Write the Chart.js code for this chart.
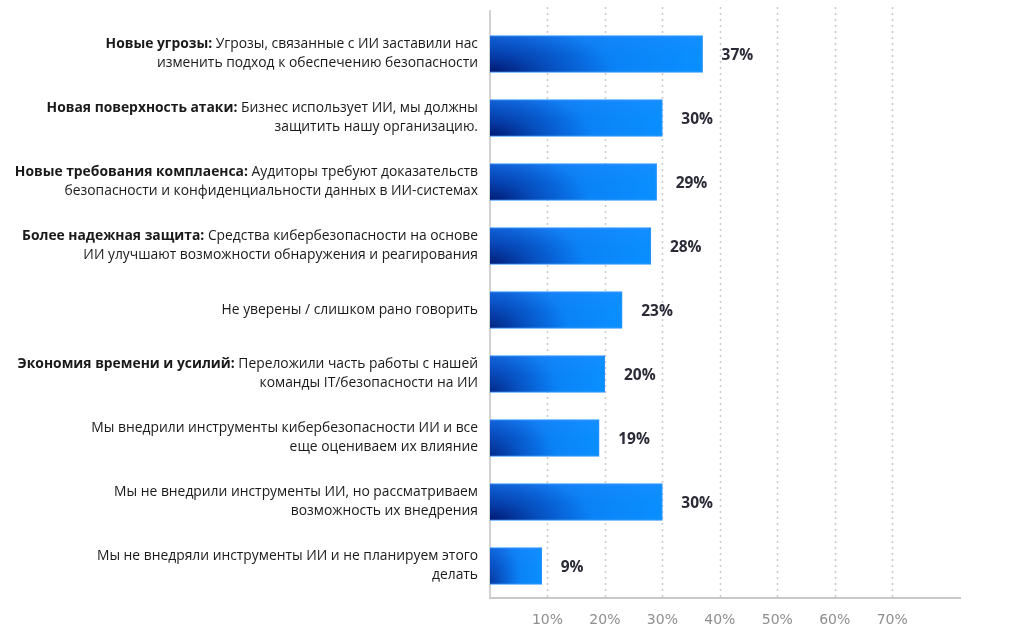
<!DOCTYPE html>
<html>
<head>
<meta charset="utf-8">
<script src="https://cdn.jsdelivr.net/npm/chart.js@4.4.1/dist/chart.umd.min.js"></script>
<style>
  html, body { margin: 0; padding: 0; background: #ffffff; }
  #wrap { width: 1024px; height: 635px; position: relative; }
</style>
</head>
<body>
<div id="wrap"><canvas id="c" width="1024" height="635"></canvas></div>
<script>
// ---- Data ----
const labelBold = [
  'Новые угрозы:',
  'Новая поверхность атаки:',
  'Новые требования комплаенса:',
  'Более надежная защита:',
  '',
  'Экономия времени и усилий:',
  '',
  '',
  ''
];
const labelLine1 = [
  ' Угрозы, связанные с ИИ заставили нас',
  ' Бизнес использует ИИ, мы должны',
  ' Аудиторы требуют доказательств',
  ' Средства кибербезопасности на основе',
  'Не уверены / слишком рано говорить',
  ' Переложили часть работы с нашей',
  'Мы внедрили инструменты кибербезопасности ИИ и все',
  'Мы не внедрили инструменты ИИ, но рассматриваем',
  'Мы не внедряли инструменты ИИ и не планируем этого'
];
const labelLine2 = [
  'изменить подход к обеспечению безопасности',
  'защитить нашу организацию.',
  'безопасности и конфиденциальности данных в ИИ-системах',
  'ИИ улучшают возможности обнаружения и реагирования',
  '',
  'команды IT/безопасности на ИИ',
  'еще оцениваем их влияние',
  'возможность их внедрения',
  'делать'
];
const categories = labelBold.map((b, i) => (b + labelLine1[i] + ' ' + labelLine2[i]).trim());
const values = [37, 30, 29, 28, 23, 20, 19, 30, 9];
const tickValues = [10, 20, 30, 40, 50, 60, 70];
const tickLabels = ['10%', '20%', '30%', '40%', '50%', '60%', '70%'];

const LABEL_FONT = '"Open Sans", "DejaVu Sans", sans-serif';
const LABEL_SIZE = 13.85;
const BAR_THICK = 37;

const patternCache = {};
function barFill(ctx) {
  const chart = ctx.chart;
  if (!chart.chartArea || ctx.type !== 'data') return '#0a8cff';
  const xs = chart.scales.x, ys = chart.scales.y;
  const x0 = xs.getPixelForValue(0);
  const x1 = xs.getPixelForValue(ctx.raw);
  const yc = ys.getPixelForValue(ctx.dataIndex);
  const yt = yc - BAR_THICK / 2;
  const w = Math.max(2, Math.ceil(x1 - x0) + 2);
  const h = BAR_THICK + 2;
  const key = ctx.dataIndex + ':' + w;
  let pat = patternCache[key];
  if (!pat) {
    const off = document.createElement('canvas');
    off.width = w; off.height = h;
    const o = off.getContext('2d');
    const g = o.createLinearGradient(0, 0, w, 0);
    g.addColorStop(0, '#0a5ed6');
    g.addColorStop(0.55, '#0a82f6');
    g.addColorStop(1, '#0a8fff');
    o.fillStyle = g;
    o.fillRect(0, 0, w, h);
    const gv = o.createLinearGradient(0, 0, 0, h);
    gv.addColorStop(0, 'rgba(40,140,255,0.35)');
    gv.addColorStop(0.5, 'rgba(40,140,255,0)');
    o.fillStyle = gv;
    o.fillRect(0, 0, w, h);
    o.save();
    const rx = Math.max(20, w * 0.6), ry = h * 1.25;
    o.translate(0, h);
    o.scale(rx / ry, 1);
    const rg = o.createRadialGradient(0, 0, 0, 0, 0, ry);
    const a = Math.min(0.95, 0.35 + w / 300);
    rg.addColorStop(0, 'rgba(0,18,100,' + a + ')');
    rg.addColorStop(0.45, 'rgba(0,30,130,' + (a * 0.45) + ')');
    rg.addColorStop(1, 'rgba(0,40,160,0)');
    o.fillStyle = rg;
    o.fillRect(0, -h, w * ry / rx + 1, h);
    o.restore();
    pat = chart.ctx.createPattern(off, 'no-repeat');
    pat.setTransform(new DOMMatrix([1, 0, 0, 1, x0 - 1, yt - 1]));
    patternCache[key] = pat;
  }
  return pat;
}

const decorPlugin = {
  id: 'decor',
  beforeDatasetsDraw(chart) {
    const ctx = chart.ctx;
    const xs = chart.scales.x;
    const area = chart.chartArea;
    ctx.save();
    ctx.strokeStyle = '#c9c9d2';
    ctx.lineWidth = 1.5;
    ctx.setLineDash([2, 4]);
    tickValues.forEach(v => {
      const x = Math.round(xs.getPixelForValue(v)) + 0.5;
      ctx.beginPath();
      ctx.moveTo(x, 7);
      ctx.lineTo(x, area.bottom);
      ctx.stroke();
    });
    ctx.setLineDash([]);
    ctx.strokeStyle = '#d2d2d2';
    ctx.lineWidth = 2;
    const lx = xs.getPixelForValue(0);
    ctx.beginPath();
    ctx.moveTo(lx, 10);
    ctx.lineTo(lx, area.bottom);
    ctx.stroke();
    ctx.restore();
  },
  afterDatasetsDraw(chart) {
    const ctx = chart.ctx;
    const xs = chart.scales.x, ys = chart.scales.y;
    ctx.save();
    ctx.fillStyle = '#2b2b38';
    ctx.font = '700 15.5px ' + LABEL_FONT;
    ctx.textAlign = 'left';
    ctx.textBaseline = 'middle';
    values.forEach((v, i) => {
      const x = xs.getPixelForValue(v) + 19;
      const y = ys.getPixelForValue(i) + 2;
      ctx.fillText(v + '%', x, y);
    });
    const rightX = 478;
    const lh = 19;
    ctx.fillStyle = '#1a1a1a';
    categories.forEach((c, i) => {
      const yc = ys.getPixelForValue(i);
      const hasTwo = labelLine2[i] !== '';
      const y1 = hasTwo ? yc - lh / 2 : yc;
      ctx.font = '400 ' + LABEL_SIZE + 'px ' + LABEL_FONT;
      const wReg = ctx.measureText(labelLine1[i]).width;
      ctx.textAlign = 'right';
      ctx.fillText(labelLine1[i], rightX, y1);
      if (labelBold[i]) {
        ctx.font = '700 ' + LABEL_SIZE + 'px ' + LABEL_FONT;
        ctx.fillText(labelBold[i], rightX - wReg, y1);
      }
      if (hasTwo) {
        ctx.font = '400 ' + LABEL_SIZE + 'px ' + LABEL_FONT;
        ctx.fillText(labelLine2[i], rightX, y1 + lh);
      }
    });
    ctx.restore();
  }
};

new Chart(document.getElementById('c'), {
  type: 'bar',
  data: {
    labels: categories,
    datasets: [{
      data: values,
      backgroundColor: barFill,
      borderColor: '#2a93ff',
      borderWidth: 1,
      borderSkipped: 'start',
      barThickness: BAR_THICK
    }]
  },
  options: {
    indexAxis: 'y',
    responsive: false,
    animation: false,
    events: [],
    layout: { padding: { top: 22, right: 64, left: 0, bottom: 0 } },
    plugins: { legend: { display: false }, tooltip: { enabled: false } },
    scales: {
      x: {
        type: 'linear',
        min: 0,
        max: 81.8,
        afterBuildTicks(scale) { scale.ticks = tickValues.map(v => ({ value: v })); },
        afterFit(scale) { scale.height = 37; },
        grid: { display: false, drawTicks: false },
        border: { display: true, color: '#c8c8c8', width: 2 },
        ticks: {
          padding: 14,
          color: '#8e8e8e',
          font: { family: '"DejaVu Sans", sans-serif', size: 14 },
          callback: (v) => tickLabels[tickValues.indexOf(v)] || ''
        }
      },
      y: {
        type: 'category',
        afterFit(scale) { scale.width = 490; },
        grid: { display: false, drawTicks: false },
        border: { display: false },
        ticks: { display: false }
      }
    }
  },
  plugins: [decorPlugin]
});
</script>
</body>
</html>
